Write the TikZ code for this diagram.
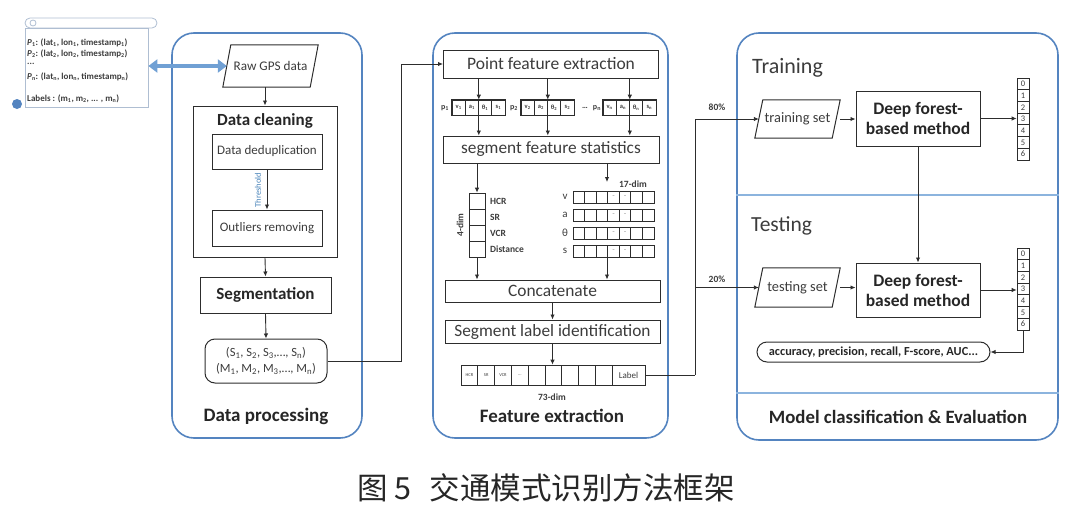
\documentclass[tikz,border=0pt]{standalone}
\usepackage{fontspec}
\setmainfont{Carlito}
\newfontfamily\cjk{Noto Sans CJK SC}
\usetikzlibrary{arrows.meta,calc}
\definecolor{pblue}{RGB}{84,132,192}
\definecolor{lblue}{RGB}{112,160,212}
\definecolor{divc}{RGB}{140,180,222}
\definecolor{gpsb}{RGB}{175,190,210}
\definecolor{ln}{RGB}{45,45,45}
\definecolor{txt}{RGB}{60,60,60}
\definecolor{thr}{RGB}{70,130,185}
\tikzset{
  panel/.style={draw=pblue, line width=1.6pt, rounded corners=22pt, inner sep=0pt},
  bx/.style={draw=ln, line width=1pt, inner sep=0pt, align=center},
  plain/.style={inner sep=0pt, align=center},
  arr/.style={draw=ln, line width=0.9pt, -{Latex[length=5pt,width=4.5pt]}},
  cline/.style={draw=ln, line width=0.9pt},
  cell/.style={draw=ln, line width=0.6pt, minimum width=13.25pt, minimum height=15pt, inner sep=0pt, font=\fontsize{6.5}{6.5}\selectfont\bfseries},
  gcell/.style={draw=ln, line width=0.8pt, minimum width=11.57pt, minimum height=12pt, inner sep=0pt, font=\fontsize{5}{5}\selectfont},
  dcell/.style={draw=ln, line width=0.8pt, minimum width=16pt, minimum height=16pt, inner sep=0pt},
  fcell/.style={draw=ln, line width=0.8pt, minimum width=16.8pt, minimum height=20pt, inner sep=0pt, font=\fontsize{4.5}{4.5}\selectfont},
  vcell/.style={draw=ln, line width=0.7pt, minimum width=12pt, minimum height=11.7pt, inner sep=0pt, font=\fontsize{8.5}{8.5}\selectfont},
  gpst/.style={anchor=west, inner sep=0pt, font=\fontsize{9}{10}\selectfont\bfseries},
  smb/.style={inner sep=0pt, align=center, font=\fontsize{9.5}{10}\selectfont\bfseries},
}
\begin{document}
\begin{tikzpicture}[x=1pt,y=-1pt, every node/.style={text=txt}]
\useasboundingbox (0,0) rectangle (1080,522);

% ---------- GPS record box ----------
\draw[draw=gpsb, line width=0.8pt, rounded corners=5pt] (25,18) rectangle (157,28);
\draw[draw=gpsb, line width=0.8pt] (33,23) circle (3pt);
\node[draw=gpsb, line width=0.8pt, minimum width=123pt, minimum height=79pt, inner sep=0pt] (gps) at (86.5,67.5) {};
\fill[pblue] (17,104) circle (5pt);
\node[gpst] (g1) at (27,43) {\textit{P}\textsubscript{1}: (lat\textsubscript{1}, lon\textsubscript{1}, timestamp\textsubscript{1})};
\node[gpst] (g2) at (27,54) {\textit{P}\textsubscript{2}: (lat\textsubscript{2}, lon\textsubscript{2}, timestamp\textsubscript{2})};
\node[gpst] (g3) at (27,64) {...};
\node[gpst] (g4) at (27,77) {\textit{P}\textsubscript{n}: (lat\textsubscript{n}, lon\textsubscript{n}, timestamp\textsubscript{n})};
\node[gpst] (g5) at (27,99) {Labels : (m\textsubscript{1}, m\textsubscript{2}, ... , m\textsubscript{n})};

% ---------- Panels ----------
\node[panel, minimum width=190pt, minimum height=405pt] (p1) at (267,235.5) {};
\node[panel, minimum width=235pt, minimum height=405pt] (p2) at (550.5,235.5) {};
\node[panel, minimum width=321pt, minimum height=407pt] (p3) at (897.5,236.5) {};
\draw[draw=divc, line width=1.4pt] (p3.west |- 0,195) -- (p3.east |- 0,195);
\draw[draw=divc, line width=1.4pt] (p3.west |- 0,393) -- (p3.east |- 0,393);

% ---------- Panel 1: Data processing ----------
\node[plain, minimum width=95pt, minimum height=42pt, font=\fontsize{13.2}{15}\selectfont] (raw) at (270.5,66) {Raw GPS data};
\draw[draw=ln, line width=1pt] ($(raw.north west)+(8,0)$) -- (raw.north east) -- ($(raw.south east)+(-8,0)$) -- (raw.south west) -- cycle;
\draw[line width=4pt, draw=lblue, {Triangle[width=13pt,length=9pt]}-{Triangle[width=13pt,length=9pt]}] (gps.east |- raw.west) -- ([xshift=4pt]raw.west);

\node[bx, minimum width=144pt, minimum height=151pt] (dc) at (265,181.5) {};
\node[plain, font=\fontsize{17}{19}\selectfont\bfseries, text=black!85] (dct) at (265,121) {Data cleaning};
\node[bx, minimum width=110pt, minimum height=35pt, font=\fontsize{13}{15}\selectfont] (dd) at (267,151.5) {Data deduplication};
\node[bx, minimum width=110pt, minimum height=36pt, font=\fontsize{13}{15}\selectfont] (orm) at (267,228) {Outliers removing};
\draw[arr] (dd.south) -- (orm.north);
\node[plain, rotate=90, font=\fontsize{8.5}{9}\selectfont, text=thr] (thl) at (258,190) {Threshold};
\draw[arr] (raw.south -| dc.north) -- (dc.north);
\node[bx, minimum width=131pt, minimum height=36pt, font=\fontsize{17}{19}\selectfont\bfseries, text=black!85] (seg) at (265.5,295) {Segmentation};
\draw[arr] (dc.south) -- (seg.north);
\node[bx, rounded corners=10pt, minimum width=122pt, minimum height=44pt, font=\fontsize{12.5}{16}\selectfont] (seq) at (266,361)
  {(S\textsubscript{1}, S\textsubscript{2}, S\textsubscript{3},\ldots, S\textsubscript{n})\\(M\textsubscript{1}, M\textsubscript{2}, M\textsubscript{3},\ldots, M\textsubscript{n})};
\draw[arr] (seg.south) -- (seq.north);
\node[plain, font=\fontsize{19}{21}\selectfont\bfseries, text=black!85] (dpl) at (266,416) {Data processing};

% ---------- Panel 2: Feature extraction ----------
\node[bx, minimum width=215pt, minimum height=28pt, font=\fontsize{17.5}{19}\selectfont] (pfe) at (551,64) {Point feature extraction};
\draw[arr] (seq.east) -- ++(74,0) |- (pfe.west);

\node[plain, font=\fontsize{8}{8}\selectfont\bfseries] (pl1) at (445,108) {p\textsubscript{1}};
\foreach \t [count=\i] in {v,a,θ,s}
  \node[cell] (pa\i) at ({452+13.25*(\i-0.5)},107.5) {\t\textsubscript{1}};
\node[plain, font=\fontsize{8}{8}\selectfont\bfseries] (pl2) at (514,108) {p\textsubscript{2}};
\foreach \t [count=\i] in {v,a,θ,s}
  \node[cell] (pb\i) at ({521+13.25*(\i-0.5)},107.5) {\t\textsubscript{2}};
\node[plain, font=\fontsize{8}{8}\selectfont\bfseries] (pld) at (585,108) {\ldots};
\node[plain, font=\fontsize{8}{8}\selectfont\bfseries] (pl3) at (597,108) {p\textsubscript{n}};
\foreach \t [count=\i] in {v,a,θ,s}
  \node[cell] (pc\i) at ({603+13.25*(\i-0.5)},107.5) {\t\textsubscript{n}};
\draw[draw=ln, line width=1pt] (pa1.north west) rectangle (pa4.south east);
\draw[draw=ln, line width=1pt] (pb1.north west) rectangle (pb4.south east);
\draw[draw=ln, line width=1pt] (pc1.north west) rectangle (pc4.south east);

\node[bx, minimum width=216pt, minimum height=27pt, font=\fontsize{17.3}{19}\selectfont] (sfs) at (551,149.5) {segment feature statistics};
\foreach \c in {pa,pb,pc} {
  \draw[arr] (pfe.south -| \c2.east) -- (\c2.north east);
  \draw[arr] (\c2.south east) -- (sfs.north -| \c2.east);
}

% 4-dim column
\foreach \t [count=\i] in {HCR,SR,VCR,Distance} {
  \node[dcell] (d\i) at (477,{193+16*(\i-0.5)}) {};
  \node[anchor=west, smb] (dl\i) at (490,{193+16*(\i-0.5)}) {\t};
}
\node[smb, rotate=90] (fdl) at (460,225) {4-dim};
\draw[arr] (sfs.south -| d1.north) -- (d1.north);

% 17-dim grid
\node[smb] (sdl) at (633,184) {17-dim};
\foreach \r/\y [count=\j] in {v/197,a/215,θ/233,s/251} {
  \node[plain, font=\fontsize{11}{11}\selectfont] (rl\j) at (565,\y) {\r};
  \foreach \k in {1,...,7}
    \node[gcell] (g\j\k) at ({573+11.57*(\k-0.5)},\y) {};
  \node[plain, font=\fontsize{5}{5}\selectfont] at (g\j4) {--};
  \node[plain, font=\fontsize{5}{5}\selectfont] at (g\j5) {--};
}
\coordinate (sd) at (607,182);
\draw[arr] (sfs.south -| sd) -- (sd);

\node[bx, minimum width=215pt, minimum height=22pt, font=\fontsize{17.4}{19}\selectfont] (cat) at (552.5,291) {Concatenate};
\draw[arr] (d4.south) -- (cat.north -| d4.south);
\draw[arr] (g47.south -| sd) -- (cat.north -| sd);
\node[bx, minimum width=215pt, minimum height=23pt, font=\fontsize{17.3}{19}\selectfont] (sli) at (552.5,331.5) {Segment label identification};
\draw[arr] (cat.south) -- (sli.north);

\foreach \t [count=\i] in {HCR,SR,VCR,\ldots,{},{},{},{},{}}
  \node[fcell] (f\i) at ({461+16.8*(\i-0.5)},375) {\t};
\node[draw=ln, line width=0.8pt, minimum width=33pt, minimum height=20pt, inner sep=0pt, font=\fontsize{9}{9}\selectfont] (fL) at (628.5,375) {Label};
\draw[arr] (sli.south) -- (sli.south |- f1.north);
\node[smb] (sdim) at (552,397) {73-dim};
\node[plain, font=\fontsize{19}{21}\selectfont\bfseries, text=black!85] (fel) at (552,416) {Feature extraction};

% ---------- Panel 3 ----------
\node[anchor=west, inner sep=0pt, font=\fontsize{22}{24}\selectfont] (trl) at (752,68) {Training};
\node[anchor=west, inner sep=0pt, font=\fontsize{21.5}{24}\selectfont] (tel) at (751,226) {Testing};

\node[plain, minimum width=85pt, minimum height=38pt, font=\fontsize{14.4}{16}\selectfont] (ts) at (797.5,119) {training set};
\draw[draw=ln, line width=1pt] ($(ts.north west)+(8,0)$) -- (ts.north east) -- ($(ts.south east)+(-8,0)$) -- (ts.south west) -- cycle;
\node[plain, minimum width=85pt, minimum height=39pt, font=\fontsize{14.4}{16}\selectfont] (tt) at (797.5,287.5) {testing set};
\draw[draw=ln, line width=1pt] ($(tt.north west)+(8,0)$) -- (tt.north east) -- ($(tt.south east)+(-8,0)$) -- (tt.south west) -- cycle;

\node[bx, minimum width=124pt, minimum height=55pt, font=\fontsize{17.5}{20}\selectfont\bfseries, text=black!85] (df1) at (918,118.5) {Deep forest-\\based method};
\node[bx, minimum width=124pt, minimum height=54pt, font=\fontsize{17.5}{20}\selectfont\bfseries, text=black!85] (df2) at (918,290) {Deep forest-\\based method};
\draw[arr] (ts.east) -- (df1.west |- ts.east);
\draw[arr] (tt.east) -- (df2.west |- tt.east);
\draw[arr] (df1.south) -- (df2.north);

\foreach \k in {0,...,6} {
  \node[vcell] (va\k) at (1023,{78+11.7*(\k+0.5)}) {\k};
  \node[vcell] (vb\k) at (1023,{248+11.7*(\k+0.5)}) {\k};
}
\draw[arr] (df1.east) -- (df1.east -| va3.west);
\draw[arr] (df2.east) -- (df2.east -| vb3.west);

\node[draw=ln, line width=1pt, rounded corners=10pt, minimum width=233pt, minimum height=20pt, inner sep=0pt, font=\fontsize{12.3}{14}\selectfont\bfseries, text=black!85] (ev) at (873.5,352) {accuracy, precision, recall, F-score, AUC...};
\draw[arr] (vb6.south) |- (ev.east);

\node[plain, font=\fontsize{18.8}{21}\selectfont\bfseries, text=black!85] (mcl) at (898,417) {Model classification \& Evaluation};

% split connector
\coordinate (sp) at (695,375);
\draw[cline] (fL.east) -- (sp);
\draw[arr] (sp) |- ([xshift=4pt]ts.west);
\draw[arr] (sp |- tt.west) -- ([xshift=4pt]tt.west);
\node[smb] (p80) at (717,107) {80\%};
\node[smb] (p20) at (717,279) {20\%};

% ---------- Caption ----------
\node[plain, font=\cjk\fontsize{30.5}{32}\selectfont, text=black!85] (cap) at (546,488) {图 5\hspace{0.6em}交通模式识别方法框架};
\end{tikzpicture}
\end{document}
